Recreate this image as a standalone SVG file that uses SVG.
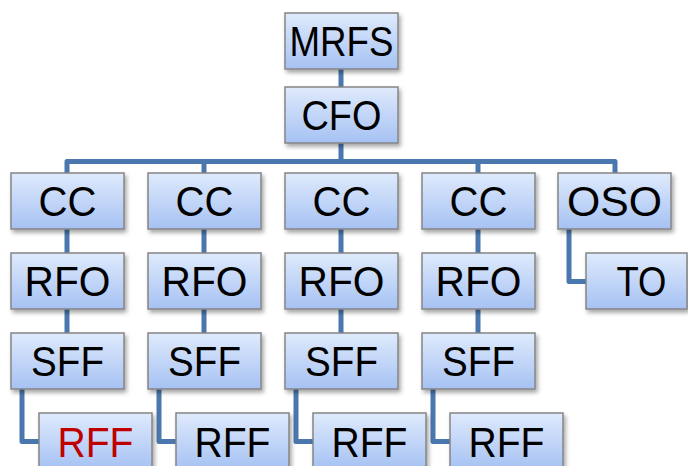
<svg xmlns="http://www.w3.org/2000/svg" width="688" height="466" viewBox="0 0 688 466">
<defs>
<linearGradient id="g" x1="0" y1="0" x2="0" y2="1">
<stop offset="0" stop-color="#dfeafc"/>
<stop offset="1" stop-color="#a6c2f3"/>
</linearGradient>
<filter id="sh" x="-10%" y="-10%" width="130%" height="140%">
<feDropShadow dx="2" dy="3" stdDeviation="2" flood-color="#000" flood-opacity="0.35"/>
</filter>
</defs>
<style>
.b{fill:url(#g);stroke:#858585;stroke-width:1.5;filter:url(#sh)}
.t{font-family:"Liberation Sans",Arial,sans-serif;font-size:42px;fill:#000;text-anchor:middle}
.c{fill:none;stroke:#4a77ae;stroke-width:5;stroke-linejoin:round}
</style>
<rect width="688" height="466" fill="#fff"/>
<g id="connectors">
<path class="c" d="M341 68V88M341 142V161.5M67 174V161.5H615V174M204 161.5V174M478 161.5V174"/>
<path class="c" d="M67 228V254M204 228V254M341 228V254M478 228V254"/>
<path class="c" d="M67 308V334M204 308V334M341 308V334M478 308V334"/>
<path class="c" d="M22 388V441.5H40M159 388V441.5H177M296 388V441.5H314M433 388V441.5H451M569 228V281.5H587"/>
</g>
<g id="n-mrfs"><rect class="b" x="285" y="13" width="113" height="56"/><text class="t" x="341.5" y="56" textLength="104" lengthAdjust="spacingAndGlyphs">MRFS</text></g>
<g id="n-cfo"><rect class="b" x="285" y="87" width="113" height="56"/><text class="t" x="341.5" y="130" textLength="80" lengthAdjust="spacingAndGlyphs">CFO</text></g>
<g id="n-cc1"><rect class="b" x="11" y="173" width="113" height="56"/><text class="t" x="67.5" y="216" textLength="58" lengthAdjust="spacingAndGlyphs">CC</text></g>
<g id="n-cc2"><rect class="b" x="148" y="173" width="113" height="56"/><text class="t" x="204.5" y="216" textLength="58" lengthAdjust="spacingAndGlyphs">CC</text></g>
<g id="n-cc3"><rect class="b" x="285" y="173" width="113" height="56"/><text class="t" x="341.5" y="216" textLength="58" lengthAdjust="spacingAndGlyphs">CC</text></g>
<g id="n-cc4"><rect class="b" x="422" y="173" width="113" height="56"/><text class="t" x="478.5" y="216" textLength="58" lengthAdjust="spacingAndGlyphs">CC</text></g>
<g id="n-oso"><rect class="b" x="558" y="173" width="113" height="56"/><text class="t" x="614.5" y="216" textLength="95" lengthAdjust="spacingAndGlyphs">OSO</text></g>
<g id="n-rfo1"><rect class="b" x="11" y="253" width="113" height="56"/><text class="t" x="67.5" y="296" textLength="86" lengthAdjust="spacingAndGlyphs">RFO</text></g>
<g id="n-rfo2"><rect class="b" x="148" y="253" width="113" height="56"/><text class="t" x="204.5" y="296" textLength="86" lengthAdjust="spacingAndGlyphs">RFO</text></g>
<g id="n-rfo3"><rect class="b" x="285" y="253" width="113" height="56"/><text class="t" x="341.5" y="296" textLength="86" lengthAdjust="spacingAndGlyphs">RFO</text></g>
<g id="n-rfo4"><rect class="b" x="422" y="253" width="113" height="56"/><text class="t" x="478.5" y="296" textLength="86" lengthAdjust="spacingAndGlyphs">RFO</text></g>
<g id="n-to"><rect class="b" x="586" y="253" width="101" height="56"/><text class="t" x="641.5" y="296" textLength="50" lengthAdjust="spacingAndGlyphs">TO</text></g>
<g id="n-sff1"><rect class="b" x="11" y="333" width="113" height="56"/><text class="t" x="67.5" y="376" textLength="73" lengthAdjust="spacingAndGlyphs">SFF</text></g>
<g id="n-sff2"><rect class="b" x="148" y="333" width="113" height="56"/><text class="t" x="204.5" y="376" textLength="73" lengthAdjust="spacingAndGlyphs">SFF</text></g>
<g id="n-sff3"><rect class="b" x="285" y="333" width="113" height="56"/><text class="t" x="341.5" y="376" textLength="73" lengthAdjust="spacingAndGlyphs">SFF</text></g>
<g id="n-sff4"><rect class="b" x="422" y="333" width="113" height="56"/><text class="t" x="478.5" y="376" textLength="73" lengthAdjust="spacingAndGlyphs">SFF</text></g>
<g id="n-rff1"><rect class="b" x="39" y="413" width="113" height="56"/><text class="t" x="95.5" y="457" style="fill:#c00000" textLength="76" lengthAdjust="spacingAndGlyphs">RFF</text></g>
<g id="n-rff2"><rect class="b" x="176" y="413" width="113" height="56"/><text class="t" x="232.5" y="457" textLength="76" lengthAdjust="spacingAndGlyphs">RFF</text></g>
<g id="n-rff3"><rect class="b" x="313" y="413" width="113" height="56"/><text class="t" x="369.5" y="457" textLength="76" lengthAdjust="spacingAndGlyphs">RFF</text></g>
<g id="n-rff4"><rect class="b" x="450" y="413" width="113" height="56"/><text class="t" x="506.5" y="457" textLength="76" lengthAdjust="spacingAndGlyphs">RFF</text></g>
</svg>
